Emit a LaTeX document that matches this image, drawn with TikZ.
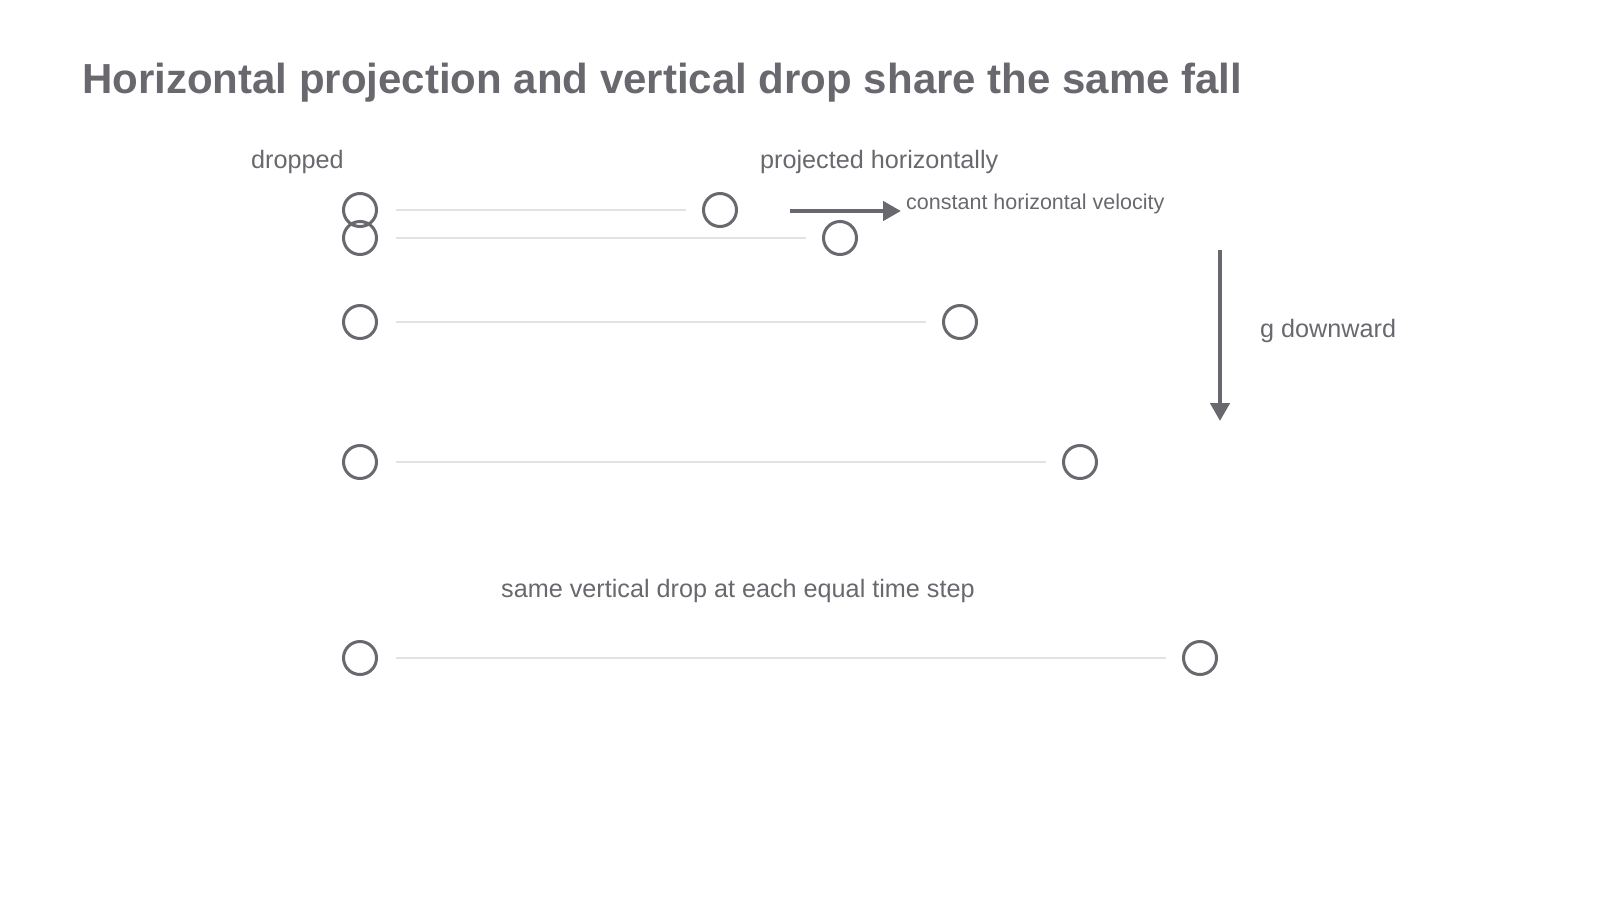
\documentclass[tikz,border=0pt]{standalone}
\usepackage{fontspec}
\setmainfont{Liberation Sans}
\usetikzlibrary{arrows.meta}
\definecolor{ink}{RGB}{104,104,110}
\definecolor{rail}{RGB}{226,226,226}
\pgfdeclarelayer{bg}
\pgfsetlayers{bg,main}

\begin{document}
\begin{tikzpicture}[x=1pt,y=-1pt,
        ball/.style={circle,draw=ink,line width=3pt,minimum size=33pt,inner sep=0pt},
        lbl/.style={text=ink,inner sep=0pt,anchor=base west,font=\fontsize{25.2}{29}\selectfont},
        track/.style={draw=rail,line width=2.2pt,shorten <=18pt,shorten >=16pt},
        push/.style={draw=ink,line width=4.5pt,-{Triangle[length=18pt,width=19pt]}}]
        \useasboundingbox (0,0) rectangle (1600,900);
        \node (title) [lbl,font=\fontsize{42}{48}\selectfont\bfseries] at (82,93) {Horizontal projection and vertical drop share the same fall};
        \node (drop) [lbl] at (251,168) {dropped};
        \node (proj) [lbl] at (760,168) {projected horizontally};
        \node (velo) [lbl,font=\fontsize{21.5}{25}\selectfont] at (906,209) {constant horizontal velocity};
        \node (grav) [lbl] at (1260,337) {g downward};
        \node (same) [lbl] at (501,597) {same vertical drop at each equal time step};
        \node (l0) [ball] at (360,210) {};
        \node (l1) [ball] at (360,238) {};
        \node (l2) [ball] at (360,322) {};
        \node (l3) [ball] at (360,462) {};
        \node (l4) [ball] at (360,658) {};
        \node (r0) [ball] at (720,210) {};
        \node (r1) [ball] at (840,238) {};
        \node (r2) [ball] at (960,322) {};
        \node (r3) [ball] at (1080,462) {};
        \node (r4) [ball] at (1200,658) {};
        \coordinate (h0) at (790,211);
        \coordinate (h1) at (901,211);
        \coordinate (g0) at (1220,250);
        \coordinate (g1) at (1220,421);
        \draw [push] (h0) -- (h1);
        \draw [push] (g0) -- (g1);
        \begin{pgfonlayer}{bg}
                \draw [track] (l0) -- (r0);
                \draw [track] (l1) -- (r1);
                \draw [track] (l2) -- (r2);
                \draw [track] (l3) -- (r3);
                \draw [track] (l4) -- (r4);
        \end{pgfonlayer}
\end{tikzpicture}
\end{document}
